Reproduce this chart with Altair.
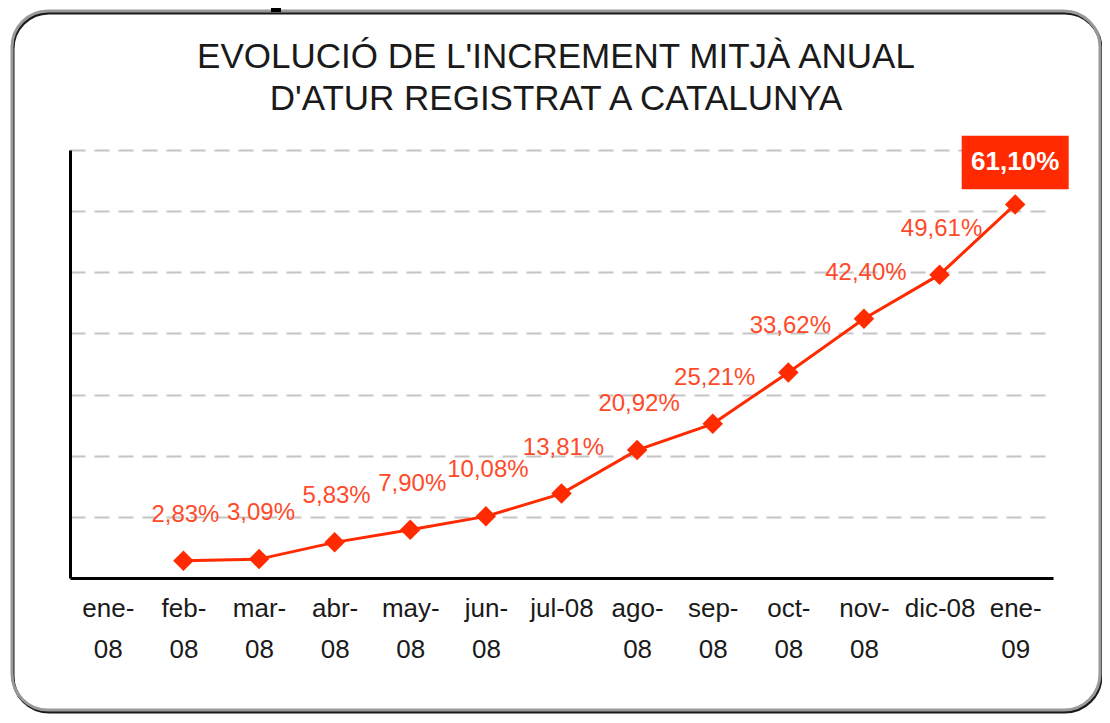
import altair as alt
import pandas as pd

# Categories (x axis tick labels; "|" marks a line break)
months = ["ene-|08", "feb-|08", "mar-|08", "abr-|08", "may-|08", "jun-|08",
          "jul-08", "ago-|08", "sep-|08", "oct-|08", "nov-|08", "dic-08", "ene-|09"]
# Series (no value for the first category)
data_months = months[1:]
values = [2.83, 3.09, 5.83, 7.90, 10.08, 13.81, 20.92, 25.21, 33.62, 42.40, 49.61, 61.10]
title_lines = ["EVOLUCIÓ DE L'INCREMENT MITJÀ ANUAL", "D'ATUR REGISTRAT A CATALUNYA"]

labels = [f"{v:.2f}".replace(".", ",") + "%" for v in values]
df = pd.DataFrame({"month": data_months, "value": values, "label": labels})
df_rest = df.iloc[:-1]
df_last = df.iloc[[-1]]

RED = "#FF2A00"
LABEL_RED = "#FF4A2A"
FONT = "Liberation Sans"

x_enc = alt.X("month:N", sort=months,
              scale=alt.Scale(type="point", domain=months, padding=0.5),
              axis=alt.Axis(title=None, labelExpr="split(datum.value, '|')",
                            labelAngle=0, labelFont=FONT, labelFontSize=26,
                            labelColor="#1a1a1a", labelLineHeight=41,
                            labelPadding=17, ticks=False, domainColor="#000000",
                            domainWidth=3, grid=False, labelBaseline="top"))
y_enc = alt.Y("value:Q", scale=alt.Scale(domain=[0, 70], nice=False),
              axis=alt.Axis(title=None, labels=False, ticks=False,
                            values=[0, 10, 20, 30, 40, 50, 60, 70],
                            domainColor="#000000", domainWidth=3,
                            grid=True, gridColor="#c4c4c4", gridWidth=2,
                            gridDash=[15, 9]))

one = alt.Data(values=[{"k": 1}])

frame_shadow = alt.Chart(one).mark_rect(
    fill=None, stroke="#1a1a1a", strokeWidth=3, cornerRadius=36
).encode(x=alt.value(-57), x2=alt.value(1031), y=alt.value(-137), y2=alt.value(562))

frame = alt.Chart(one).mark_rect(
    fill=None, stroke="#9a9a9a", strokeWidth=3, cornerRadius=36
).encode(x=alt.value(-58), x2=alt.value(1030), y=alt.value(-139), y2=alt.value(560))

tick = alt.Chart(one).mark_rule(stroke="#000000", strokeWidth=10).encode(
    x=alt.value(206), y=alt.value(-142), y2=alt.value(-138))

title1 = alt.Chart(alt.Data(values=[{"t": title_lines[0]}])).mark_text(
    font=FONT, fontSize=35, color="#1a1a1a", baseline="middle", align="center"
).encode(x=alt.value(486), y=alt.value(-93), text="t:N")
title2 = alt.Chart(alt.Data(values=[{"t": title_lines[1]}])).mark_text(
    font=FONT, fontSize=35, color="#1a1a1a", baseline="middle", align="center"
).encode(x=alt.value(486), y=alt.value(-51), text="t:N")

base = alt.Chart(df)

line = base.mark_line(color=RED, strokeWidth=3).encode(x=x_enc, y=y_enc)
points = base.mark_point(shape="diamond", filled=True, color=RED, size=420,
                         opacity=1).encode(x=x_enc, y=y_enc)

text = alt.Chart(df_rest).mark_text(
    font=FONT, fontSize=24, color=LABEL_RED, dy=-46, dx=2
).encode(x=x_enc, y=y_enc, text="label:N")

box = alt.Chart(df_last).mark_point(
    shape="M-1,-0.5H1V0.5H-1Z", filled=True, color=RED, size=11449,
    opacity=1, yOffset=-42
).encode(x=x_enc, y=y_enc)

last_text = alt.Chart(df_last).mark_text(
    font=FONT, fontSize=26, fontWeight="bold", color="#ffffff", dy=-42
).encode(x=x_enc, y=y_enc, text="label:N")

chart = alt.layer(frame_shadow, frame, tick, title1, title2, line, points, text,
                  box, last_text).properties(
    width=983, height=428,
    autosize=alt.AutoSizeParams(type="none"),
    padding={"left": 62, "top": 142, "right": 49, "bottom": 137},
).configure_view(stroke=None)

chart.save("out.html", embed_options={"renderer": "svg", "actions": False})
